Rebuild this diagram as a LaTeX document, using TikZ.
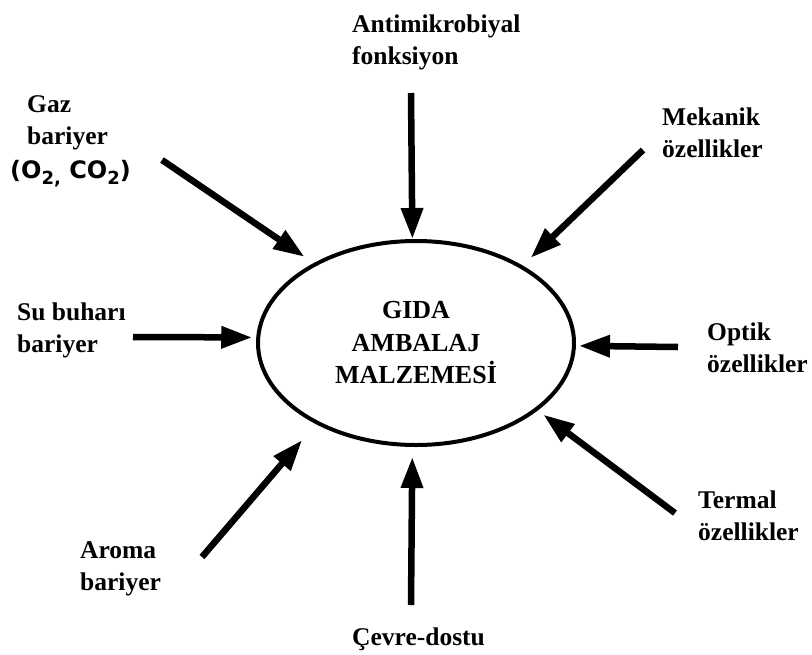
\documentclass[tikz,border=0pt]{standalone}
\usepackage{fontspec}
\setmainfont{Liberation Serif}
\newfontfamily\sansbold{DejaVu Sans}
\usetikzlibrary{shapes.geometric,arrows.meta}
\newcommand\lowsub[1]{\raisebox{-0.28em}{\fontsize{18}{18}\selectfont #1}}
\tikzset{
  lbl/.style={anchor=base west,inner sep=0pt,font=\fontsize{25.5}{32}\selectfont\bfseries},
  arr/.style={line width=6.5pt,-{Triangle[length=31pt,width=21pt]}},
  core/.style={ellipse,draw,line width=4pt,minimum width=316pt,minimum height=204pt,inner sep=0pt,
    align=center,font=\fontsize{26}{32.5}\selectfont\bfseries}
}
\begin{document}
\begin{tikzpicture}[x=1pt,y=-1pt]
\useasboundingbox (0,0) rectangle (812,654);
\node[core] (core) at (416,343) {GIDA\\AMBALAJ\\MALZEMESİ};
% labels
\node[lbl] (anti) at (352,32) {\vtop{\hbox{Antimikrobiyal}\hbox{fonksiyon}}};
\node[lbl] (gaz) at (27,112) {\vtop{\hbox{Gaz}\hbox{bariyer}\vskip2pt\hbox{\kern-17pt\sansbold\fontsize{24}{32}\selectfont(O\lowsub{2,} CO\lowsub{2})}}};
\node[lbl] (mek) at (662,125) {\vtop{\hbox{Mekanik}\hbox{özellikler}}};
\node[lbl] (su) at (17,320) {\vtop{\hbox{Su buharı}\hbox{bariyer}}};
\node[lbl] (opt) at (707,340) {\vtop{\hbox{Optik}\hbox{özellikler}}};
\node[lbl] (aro) at (80,558) {\vtop{\hbox{Aroma}\hbox{bariyer}}};
\node[lbl] (cev) at (352,645) {Çevre-dostu};
\node[lbl] (ter) at (698,508) {\vtop{\hbox{Termal}\hbox{özellikler}}};
% arrow start points
\coordinate (sAnti) at (411,93);
\coordinate (sGaz) at (162,160);
\coordinate (sMek) at (643,150);
\coordinate (sSu) at (133,337);
\coordinate (sOpt) at (678,347);
\coordinate (sTer) at (675,513);
\coordinate (sCev) at (411,605);
\coordinate (sAro) at (202,557);
% arrows
\draw[arr] (sAnti) -- (core.92);
\draw[arr,shorten >=11pt] (sGaz) -- (core.142);
\draw[arr,shorten >=11pt] (sMek) -- (core.36);
\draw[arr,shorten >=4pt] (sSu) -- (core.178);
\draw[arr,shorten >=3pt] (sOpt) -- (core.-1.5);
\draw[arr,shorten >=7pt] (sTer) -- (core.-29);
\draw[arr,shorten >=10pt] (sCev) -- (core.-92);
\draw[arr,shorten >=21pt] (sAro) -- (core.219);
\end{tikzpicture}
\end{document}
